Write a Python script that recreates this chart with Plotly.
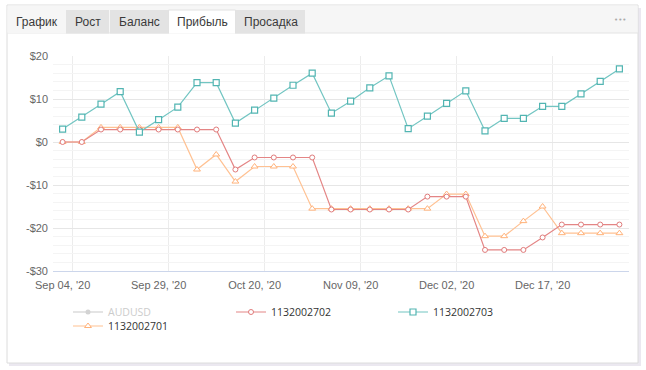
import plotly.graph_objects as go

# ---------------- data ----------------
dates = ["Sep 04, '20", "Sep 09, '20", "Sep 14, '20", "Sep 18, '20", "Sep 24, '20",
         "Sep 29, '20", "Oct 02, '20", "Oct 07, '20", "Oct 12, '20", "Oct 15, '20",
         "Oct 20, '20", "Oct 23, '20", "Oct 28, '20", "Nov 02, '20", "Nov 05, '20",
         "Nov 09, '20", "Nov 13, '20", "Nov 18, '20", "Nov 23, '20", "Nov 27, '20",
         "Dec 02, '20", "Dec 04, '20", "Dec 08, '20", "Dec 10, '20", "Dec 15, '20",
         "Dec 17, '20", "Dec 21, '20", "Dec 23, '20", "Dec 28, '20", "Dec 30, '20"]

audusd = [None]  # series is switched off (legend only) in the reference
s_1132002702 = [0, 0, 2.9, 2.9, 2.9, 2.9, 2.9, 2.9, 2.9, -6.4,
                -3.6, -3.6, -3.6, -3.6, -15.7, -15.7, -15.7, -15.7, -15.7, -12.7,
                -12.7, -12.7, -25.1, -25.1, -25.1, -22.2, -19.2, -19.2, -19.2, -19.2]
s_1132002703 = [3.0, 5.8, 8.8, 11.7, 2.3, 5.2, 8.1, 13.8, 13.8, 4.4,
                7.4, 10.2, 13.2, 16.0, 6.7, 9.5, 12.6, 15.4, 3.1, 6.0,
                9.0, 11.9, 2.6, 5.5, 5.5, 8.3, 8.3, 11.2, 14.1, 17.0]
s_1132002701 = [0, 0, 3.4, 3.4, 3.4, 3.4, 3.4, -6.4, -2.9, -9.2,
                -5.7, -5.7, -5.7, -15.5, -15.5, -15.5, -15.5, -15.5, -15.5, -15.5,
                -12.1, -12.1, -21.9, -21.9, -18.4, -15.0, -21.2, -21.2, -21.2, -21.2]

y_tickvals = [20, 10, 0, -10, -20, -30]
y_ticktext = ["$20", "$10", "$0", "-$10", "-$20", "-$30"]
x_tick_idx = [0, 5, 10, 15, 20, 25]
tabs = ["График", "Рост", "Баланс", "Прибыль", "Просадка"]

# ---------------- layout helpers ----------------
W, H = 646, 370
PL, PR, PT, PB = 53, 629, 56, 271


def px(x):
    return (x - PL) / (PR - PL)


def py(y):
    return (PB - y) / (PB - PT)


xi = list(range(len(dates)))

fig = go.Figure()

fig.add_trace(go.Scatter(
    x=audusd, y=audusd, name="AUDUSD", mode="lines+markers", legend="legend",
    visible="legendonly",
    line=dict(color="#a8a8a8", width=1.2), marker=dict(symbol="circle", size=5, color="#a8a8a8")))

fig.add_trace(go.Scatter(
    x=xi, y=s_1132002701, name="1132002701", mode="lines+markers", legend="legend4",
    line=dict(color="#ffc192", width=1.2),
    marker=dict(symbol="triangle-up", size=6, color="white", line=dict(color="#ffb27a", width=1))))

fig.add_trace(go.Scatter(
    x=xi, y=s_1132002702, name="1132002702", mode="lines+markers", legend="legend2",
    line=dict(color="#e48585", width=1.2),
    marker=dict(symbol="circle", size=5, color="white", line=dict(color="#e07b7b", width=1))))

fig.add_trace(go.Scatter(
    x=xi, y=s_1132002703, name="1132002703", mode="lines+markers", legend="legend3",
    line=dict(color="#72c5c2", width=1.2),
    marker=dict(symbol="square", size=6, color="white", line=dict(color="#52b5b2", width=1.2))))

shapes = []
# card shadow and card
shapes.append(dict(type="rect", xref="paper", yref="paper", x0=px(9), x1=px(641), y0=py(8), y1=py(366),
                   fillcolor="#ebe8f0", line=dict(width=0), layer="below"))
shapes.append(dict(type="rect", xref="paper", yref="paper", x0=px(7), x1=px(638), y0=py(5), y1=py(363),
                   fillcolor="white", line=dict(color="#dcdcdc", width=1), layer="below"))
# header bar
shapes.append(dict(type="rect", xref="paper", yref="paper", x0=px(7.5), x1=px(637.5), y0=py(5.5), y1=py(33),
                   fillcolor="#f6f6f6", line=dict(width=0), layer="below"))
shapes.append(dict(type="line", xref="paper", yref="paper", x0=px(7), x1=px(638), y0=py(33), y1=py(33),
                   line=dict(color="#e4e4e4", width=1), layer="below"))
tab_edges = [(7.5, 66), (66, 109), (110, 168), (169, 235), (236, 305)]
tab_fill = ["#f6f6f6", "#e3e3e3", "#e3e3e3", "#ffffff", "#e3e3e3"]
for (a, b), f in zip(tab_edges, tab_fill):
    shapes.append(dict(type="rect", xref="paper", yref="paper", x0=px(a), x1=px(b), y0=py(10), y1=py(33.5),
                       fillcolor=f, line=dict(width=0), layer="below"))
# active tab borders
shapes.append(dict(type="path", xref="paper", yref="paper",
                   path="M %f %f L %f %f L %f %f L %f %f" % (px(168.5), py(33.5), px(168.5), py(10), px(235.5), py(10), px(235.5), py(33.5)),
                   line=dict(color="#e2e2e2", width=1), layer="below"))

annotations = []
for (a, b), t in zip(tab_edges, tabs):
    annotations.append(dict(text=t, xref="paper", yref="paper", x=px((a + b) / 2), y=py(22),
                            xanchor="center", yanchor="middle", showarrow=False,
                            font=dict(family="Liberation Sans, Arial", size=12, color="#3a3a3a")))
annotations.append(dict(text="•••", xref="paper", yref="paper", x=px(620), y=py(19.5),
                        xanchor="center", yanchor="middle", showarrow=False,
                        font=dict(family="DejaVu Sans", size=7, color="#aaaaaa")))


def leg(x_text, y_center, color="#333333"):
    return dict(x=px(x_text - 40), y=py(y_center), xanchor="left", yanchor="middle",
                orientation="h", bgcolor="rgba(0,0,0,0)", borderwidth=0,
                font=dict(family="Open Sans, Liberation Sans", size=10.5, color=color),
                itemclick=False, itemdoubleclick=False)


fig.update_layout(
    width=W, height=H,
    margin=dict(l=PL, r=W - PR, t=PT, b=H - PB),
    paper_bgcolor="white", plot_bgcolor="rgba(0,0,0,0)",
    showlegend=True,
    legend=leg(108, 312, "#999999"),
    legend2=leg(271, 312),
    legend3=leg(433, 312),
    legend4=leg(108, 326),
    shapes=shapes, annotations=annotations,
    xaxis=dict(range=[-0.5, 29.5], tickmode="array", tickvals=x_tick_idx,
               ticktext=[dates[i] for i in x_tick_idx], showgrid=False, zeroline=False,
               showline=True, linecolor="#ccd6eb", linewidth=1, ticks="",
               ticklabelstandoff=4,
               tickfont=dict(family="Liberation Sans, Arial", size=11, color="#666666"),
               minor=dict(tickmode="array", tickvals=[-0.5, 0.5, 5.5, 10.5, 15.5, 20.5, 25.5],
                          showgrid=True, gridcolor="#ececec", gridwidth=1, ticks="")),
    yaxis=dict(range=[-30, 20], tickmode="array", tickvals=y_tickvals, ticktext=y_ticktext,
               showgrid=True, gridcolor="#e6e6e6", gridwidth=1, zeroline=False, showline=False,
               ticks="", ticklabelstandoff=4,
               tickfont=dict(family="Liberation Sans, Arial", size=11, color="#666666"),
               minor=dict(dtick=2, tick0=0, showgrid=True, gridcolor="#f4f4f4", gridwidth=1, ticks="")),
)

fig.write_html("out.html")
